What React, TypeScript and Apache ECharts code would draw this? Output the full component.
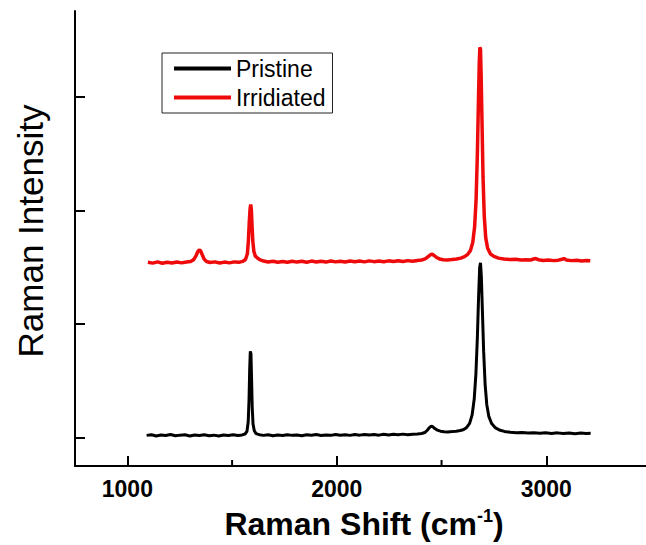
import React, { useEffect, useRef } from "react";
import * as echarts from "echarts";

const seriesNames = ["Pristine", "Irridiated"];
const seriesColors = ["#000000", "#ee0a0a"];

const xMajorTicks = [1000, 2000, 3000];
const xMinorTicks = [1500, 2500];
const yTicks = [0, 1, 2, 3];

const pristine: [number, number][] = [
  [1092, 0.02], [1115, 0.026], [1138, 0.015], [1160, 0.023], [1183, 0.018], [1206, 0.027], [1229, 0.016], [1252, 0.022],
  [1275, 0.025], [1298, 0.015], [1321, 0.023], [1344, 0.019], [1367, 0.026], [1390, 0.017], [1413, 0.022], [1436, 0.015],
  [1459, 0.024], [1482, 0.019], [1505, 0.025], [1528, 0.018], [1548, 0.024], [1562, 0.032], [1571, 0.055], [1577, 0.14],
  [1581, 0.34], [1584, 0.6], [1587, 0.76], [1590, 0.74], [1593, 0.52], [1596, 0.27], [1600, 0.12], [1606, 0.06],
  [1614, 0.036], [1630, 0.026], [1650, 0.02], [1672, 0.025], [1695, 0.017], [1718, 0.023], [1741, 0.018], [1764, 0.026],
  [1787, 0.02], [1810, 0.024], [1833, 0.017], [1856, 0.025], [1879, 0.021], [1902, 0.027], [1925, 0.019], [1948, 0.024],
  [1971, 0.02], [1994, 0.028], [2017, 0.021], [2040, 0.026], [2063, 0.02], [2086, 0.027], [2109, 0.022], [2132, 0.028],
  [2155, 0.023], [2178, 0.027], [2201, 0.022], [2224, 0.03], [2247, 0.024], [2270, 0.029], [2293, 0.025], [2316, 0.031],
  [2339, 0.026], [2362, 0.03], [2385, 0.033], [2405, 0.037], [2420, 0.045], [2432, 0.065], [2442, 0.088], [2451, 0.102],
  [2459, 0.095], [2468, 0.08], [2480, 0.066], [2495, 0.057], [2512, 0.052], [2530, 0.05], [2550, 0.053], [2570, 0.057],
  [2590, 0.063], [2606, 0.072], [2620, 0.09], [2634, 0.125], [2646, 0.2], [2656, 0.34], [2664, 0.56], [2671, 0.88],
  [2677, 1.25], [2682, 1.5], [2686, 1.54], [2690, 1.42], [2695, 1.12], [2701, 0.76], [2708, 0.47], [2716, 0.29],
  [2726, 0.185], [2739, 0.125], [2756, 0.088], [2776, 0.067], [2800, 0.055], [2828, 0.048], [2857, 0.044], [2885, 0.046],
  [2913, 0.04], [2941, 0.044], [2969, 0.038], [2997, 0.043], [3025, 0.037], [3053, 0.042], [3081, 0.036], [3109, 0.041],
  [3137, 0.035], [3165, 0.04], [3190, 0.036], [3212, 0.038],
];

const irradiated: [number, number][] = [
  [1098, 1.545], [1121, 1.538], [1144, 1.549], [1167, 1.537], [1190, 1.546], [1213, 1.539], [1236, 1.548], [1259, 1.54],
  [1282, 1.547], [1302, 1.552], [1316, 1.568], [1327, 1.6], [1336, 1.638], [1343, 1.655], [1350, 1.645], [1358, 1.61],
  [1367, 1.572], [1378, 1.552], [1395, 1.543], [1418, 1.549], [1441, 1.539], [1464, 1.547], [1487, 1.54], [1510, 1.549],
  [1532, 1.545], [1550, 1.553], [1564, 1.57], [1573, 1.62], [1578, 1.74], [1582, 1.9], [1586, 2.02], [1589, 2.055],
  [1592, 2.01], [1595, 1.88], [1599, 1.73], [1604, 1.64], [1611, 1.6], [1620, 1.585], [1632, 1.568], [1650, 1.556],
  [1672, 1.548], [1695, 1.554], [1718, 1.545], [1741, 1.553], [1764, 1.546], [1787, 1.555], [1810, 1.547], [1833, 1.554],
  [1856, 1.546], [1879, 1.556], [1902, 1.548], [1925, 1.554], [1948, 1.547], [1971, 1.556], [1994, 1.549], [2017, 1.555],
  [2040, 1.548], [2063, 1.557], [2086, 1.55], [2109, 1.556], [2132, 1.549], [2155, 1.558], [2178, 1.551], [2201, 1.557],
  [2224, 1.55], [2247, 1.558], [2270, 1.552], [2293, 1.559], [2316, 1.553], [2339, 1.56], [2362, 1.555], [2385, 1.561],
  [2405, 1.566], [2422, 1.575], [2436, 1.595], [2447, 1.612], [2456, 1.618], [2465, 1.605], [2476, 1.588], [2490, 1.575],
  [2508, 1.568], [2528, 1.566], [2550, 1.569], [2572, 1.574], [2592, 1.582], [2610, 1.595], [2625, 1.615], [2638, 1.65],
  [2649, 1.72], [2658, 1.86], [2665, 2.1], [2671, 2.5], [2676, 2.95], [2680, 3.3], [2683, 3.44], [2686, 3.42],
  [2689, 3.2], [2693, 2.8], [2698, 2.3], [2704, 1.95], [2711, 1.76], [2720, 1.67], [2733, 1.62], [2750, 1.597],
  [2772, 1.582], [2798, 1.574], [2826, 1.569], [2854, 1.572], [2880, 1.565], [2905, 1.568], [2925, 1.566], [2940, 1.574],
  [2950, 1.578], [2962, 1.568], [2985, 1.562], [3010, 1.566], [3035, 1.56], [3058, 1.564], [3075, 1.572], [3085, 1.578],
  [3096, 1.566], [3120, 1.56], [3145, 1.563], [3170, 1.557], [3192, 1.561], [3210, 1.558],
];

const xTitleMain = "Raman Shift (cm";
const xTitleSup = "-1";
const xTitleEnd = ")";
const yTitle = "Raman Intensity";

export default function App() {
  const ref = useRef<HTMLDivElement>(null);

  useEffect(() => {
    if (!ref.current) return;
    const chart = echarts.init(ref.current, undefined, { renderer: "svg" });
    const font = "'Liberation Sans', Arial, sans-serif";
    const option: any = {
      animation: false,
      backgroundColor: "#ffffff",
      grid: {
        left: 75,
        top: 11,
        right: -5,
        bottom: 79,
        outerBoundsMode: "none",
        containLabel: false,
      },
      legend: {
        orient: "vertical",
        left: 162,
        top: 53,
        data: seriesNames,
        icon: "rect",
        itemWidth: 57,
        itemHeight: 4,
        itemGap: 6,
        padding: [4, 7, 4, 12],
        borderColor: "#222",
        borderWidth: 1,
        textStyle: { fontFamily: font, fontSize: 23, color: "#000", lineHeight: 23 },
      },
      xAxis: {
        type: "value",
        min: 750,
        max: 3500,
        position: "bottom",
        axisLine: { show: true, onZero: false, lineStyle: { color: "#000", width: 2 } },
        axisTick: {
          show: true,
          inside: true,
          length: 10,
          customValues: xMajorTicks,
          lineStyle: { color: "#000", width: 2 },
        },
        axisLabel: {
          show: true,
          customValues: xMajorTicks,
          formatter: (v: number) => String(v),
          fontFamily: font,
          fontWeight: "bold",
          fontSize: 23,
          color: "#000",
          margin: 11,
        },
        splitLine: { show: false },
      },
      yAxis: {
        type: "value",
        min: -0.25,
        max: 3.76,
        axisLine: { show: true, onZero: false, lineStyle: { color: "#000", width: 2 } },
        axisTick: {
          show: true,
          inside: true,
          length: 10,
          customValues: yTicks,
          lineStyle: { color: "#000", width: 2 },
        },
        axisLabel: { show: false },
        splitLine: { show: false },
      },
      series: [
        {
          name: seriesNames[0],
          type: "line",
          data: pristine,
          showSymbol: false,
          color: seriesColors[0],
          lineStyle: { color: seriesColors[0], width: 3 },
        },
        {
          name: seriesNames[1],
          type: "line",
          data: irradiated,
          showSymbol: false,
          color: seriesColors[1],
          lineStyle: { color: seriesColors[1], width: 3.5 },
        },
        {
          name: "minorTicks",
          type: "custom",
          silent: true,
          clip: false,
          z: 10,
          data: xMinorTicks.map((v) => [v, 0]),
          encode: { x: 0, y: 1 },
          renderItem: (params: any, api: any) => {
            const p = api.coord([api.value(0), 0]);
            const cs = params.coordSys;
            const yBottom = cs.y + cs.height;
            return {
              type: "line",
              shape: { x1: p[0], y1: yBottom, x2: p[0], y2: yBottom - 6 },
              style: { stroke: "#000", lineWidth: 2 },
            };
          },
        },
      ],
      graphic: [
        {
          type: "text",
          x: 364,
          y: 524,
          style: {
            text: `{a|${xTitleMain}}{s|${xTitleSup}}{a|${xTitleEnd}}`,
            align: "center",
            verticalAlign: "middle",
            fill: "#000",
            rich: {
              a: { fontFamily: font, fontWeight: "bold", fontSize: 32, fill: "#000" },
              s: { fontFamily: font, fontWeight: "bold", fontSize: 18, fill: "#000", padding: [0, 0, 16, 0] },
            },
          },
        },
        {
          type: "text",
          x: 30,
          y: 231,
          rotation: Math.PI / 2,
          style: {
            text: yTitle,
            align: "center",
            verticalAlign: "middle",
            fontFamily: font,
            fontSize: 35,
            fill: "#000",
          },
        },
      ],
    };
    chart.setOption(option);
    return () => chart.dispose();
  }, []);

  return (
    <div
      ref={ref}
      style={{ position: "fixed", left: 0, top: 0, width: 646, height: 545, background: "#fff" }}
    />
  );
}
